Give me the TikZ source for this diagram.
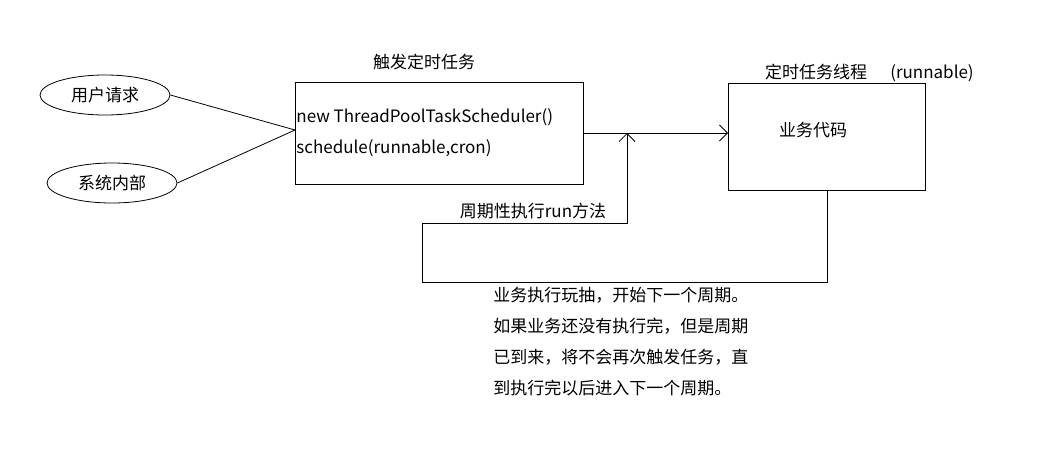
\documentclass[tikz,border=0pt]{standalone}
\usepackage{fontspec}
\setmainfont{Noto Sans CJK SC}
\usetikzlibrary{positioning,arrows.meta,shapes.geometric,calc}
\tikzset{
  source node/.style={ellipse,draw,minimum width=130pt,minimum height=40pt,inner sep=0pt},
  task box/.style={draw,inner sep=0pt},
  plain text/.style={inner sep=0pt,font=\fontsize{17}{20}\selectfont},
  open tip/.style={-{Straight Barb[length=8pt,width=16pt]}}
}
\begin{document}
\begin{tikzpicture}[x=1pt,y=-1pt,line width=0.8pt]
  \useasboundingbox (0,0) rectangle (1042,453);

  \node (user_req) [source node,plain text] at (105,95) {用户请求};
  \node (sys_inner) [source node,plain text] at (112,183) {系统内部};

  \draw (295,82) rectangle (583,184) node[coordinate] (sched_se) {};
  \node (sched_box) [coordinate] at (295,130) {};
  \node (sched_title) [plain text] at (424,62) {触发定时任务};
  \node (sched_l1) [plain text,anchor=west] at (296,117) {new ThreadPoolTaskScheduler()};
  \node (sched_l2) [plain text,anchor=west] at (296,148) {schedule(runnable,cron)};

  \draw (user_req.east) -- (sched_box);
  \draw (sys_inner.east) -- (sched_box);

  \draw (728,83) rectangle (925,190);
  \node (biz_title) [plain text] at (816,72) {定时任务线程};
  \node (biz_run) [plain text] at (932,73) {(runnable)};
  \node (biz_code) [plain text] at (813,130) {业务代码};

  \node (sched_out) [coordinate] at (583,133) {};
  \node (biz_in) [coordinate] at (728,133) {};
  \draw[open tip] (sched_out) -- (biz_in);

  % loop back
  \node (biz_bottom) [coordinate] at (827,190) {};
  \node (loop_top) [coordinate] at (627,133) {};
  \draw[open tip] (biz_bottom) -- (827,282) -- (422,282) -- (422,223) -- (627,223) -- (loop_top);
  \node (loop_label) [plain text] at (533,211) {周期性执行run方法};

  \node (note) [plain text,anchor=north west,align=left,font=\fontsize{17}{31}\selectfont] at (493,287)
    {业务执行玩抽，开始下一个周期。\\如果业务还没有执行完，但是周期\\已到来，将不会再次触发任务，直\\到执行完以后进入下一个周期。};
\end{tikzpicture}
\end{document}
